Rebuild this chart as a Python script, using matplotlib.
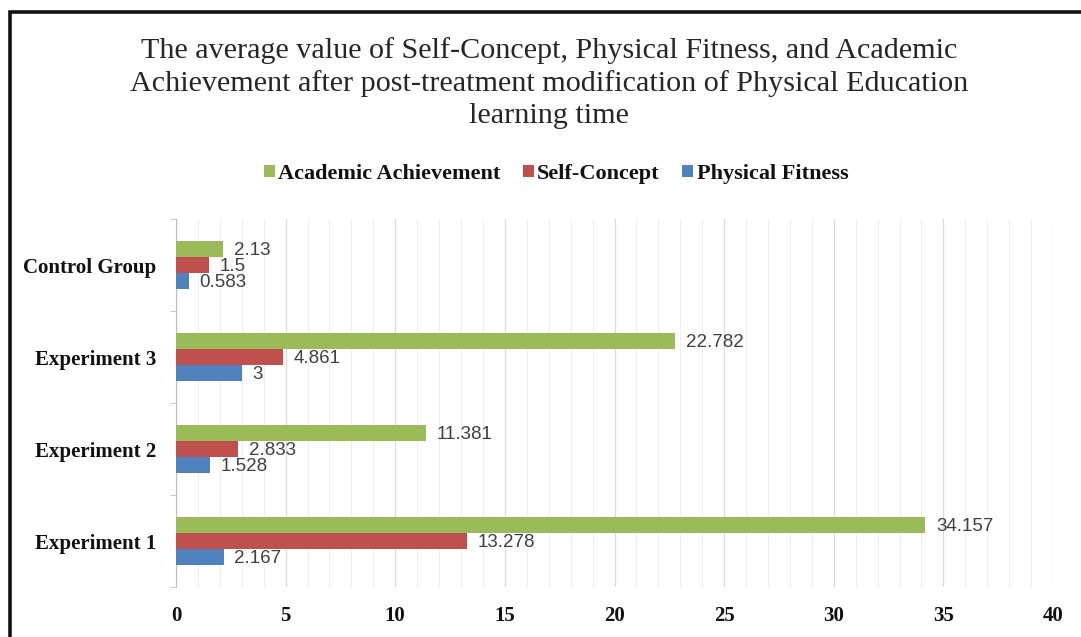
import numpy as np
import matplotlib
matplotlib.use("Agg")
import matplotlib.pyplot as plt
from matplotlib.patches import Rectangle
from matplotlib.ticker import MultipleLocator

# --- data ---
groups = ["Experiment 1", "Experiment 2", "Experiment 3", "Control Group"]
physical_fitness = [2.167, 1.528, 3, 0.583]
self_concept = [13.278, 2.833, 4.861, 1.5]
academic = [34.157, 11.381, 22.782, 2.13]
value_labels_pf = ["2.167", "1.528", "3", "0.583"]
value_labels_sc = ["13.278", "2.833", "4.861", "1.5"]
value_labels_aa = ["34.157", "11.381", "22.782", "2.13"]

C_GREEN = "#9bbb59"
C_RED = "#c0504d"
C_BLUE = "#4f81bd"
SERIF = "Liberation Serif"

fig = plt.figure(figsize=(10.81, 6.37), dpi=100)
fig.patch.set_facecolor("white")

# chart frame (only top/left visible, the rest is cropped)
fig.patches.append(Rectangle((9.5 / 1081, -0.1), 1.2, 1.1 - 11.5 / 637,
                             transform=fig.transFigure, fill=False,
                             edgecolor="#111111", linewidth=2.6))

ax = fig.add_axes([176 / 1081, 1 - 587 / 637, (1053 - 176) / 1081, (587 - 219) / 637])

y = np.arange(len(groups))
h = 0.174
series = [
    (academic, value_labels_aa, C_GREEN, "Academic Achievement", h),
    (self_concept, value_labels_sc, C_RED, "Self-Concept", 0),
    (physical_fitness, value_labels_pf, C_BLUE, "Physical Fitness", -h),
]
for vals, labs, col, name, off in series:
    bars = ax.barh(y + off, vals, height=h, color=col, label=name, zorder=3)
    for b, lab in zip(bars, labs):
        ax.text(b.get_width() + 0.5, b.get_y() + b.get_height() / 2 - 0.02, lab,
                ha="left", va="center", fontsize=13.5, color="#404040",
                family="Liberation Sans", zorder=4)

ax.set_xlim(0, 40)
ax.set_ylim(-0.5, 3.5)
ax.xaxis.set_major_locator(MultipleLocator(5))
ax.xaxis.set_minor_locator(MultipleLocator(1))
ax.grid(True, which="major", axis="x", color="#dcdcdc", linewidth=0.9, zorder=0)
ax.grid(True, which="minor", axis="x", color="#efefef", linewidth=0.8, zorder=0)
ax.set_axisbelow(True)

ax.set_yticks(y)
ax.set_yticklabels(groups, fontsize=15, fontweight="bold", family=SERIF, color="#111111")
ax.set_yticks(np.arange(-0.5, 4.0, 1.0), minor=True)
ax.tick_params(axis="y", which="major", length=0, pad=14)
ax.tick_params(axis="y", which="minor", length=4, color="#bfbfbf", direction="out")
ax.tick_params(axis="x", which="both", length=0, pad=14)
for t in ax.get_xticklabels():
    t.set_fontsize(15)
    t.set_family(SERIF)
    t.set_fontweight("bold")
    t.set_color("#111111")

for side in ["top", "right", "bottom"]:
    ax.spines[side].set_visible(False)
ax.spines["left"].set_color("#bfbfbf")

fig.text(549 / 1081, 1 - 83 / 637,
         "The average value of Self-Concept, Physical Fitness, and Academic\n"
         "Achievement after post-treatment modification of Physical Education\n"
         "learning time",
         ha="center", va="center", fontsize=21.7, family=SERIF, color="#262626",
         linespacing=1.29)

leg = fig.legend(loc="center", bbox_to_anchor=(556 / 1081, 1 - 174 / 637), ncol=3,
                 frameon=False, handlelength=0.5, handleheight=0.5,
                 handletextpad=0.15, columnspacing=1.0,
                 prop={"family": SERIF, "size": 16, "weight": "bold"})
for t in leg.get_texts():
    t.set_color("#111111")

fig.savefig("out.png", dpi=100, facecolor="white")
